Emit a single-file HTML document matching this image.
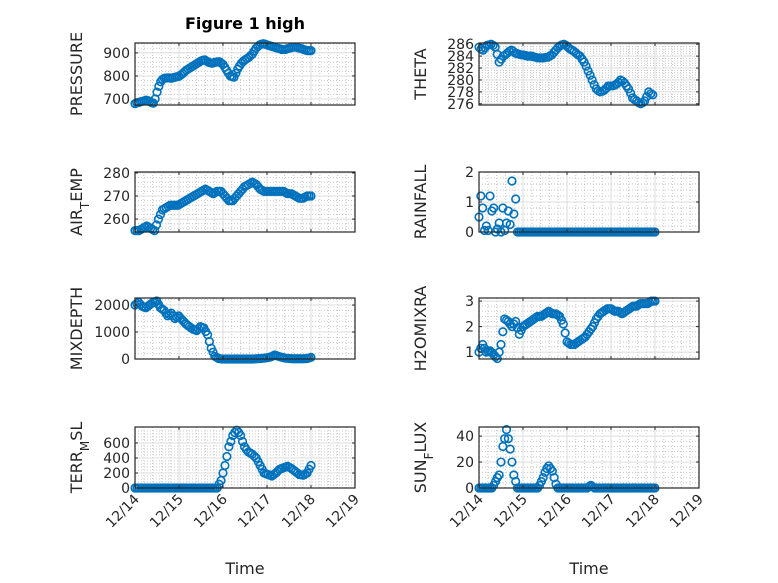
<!DOCTYPE html>
<html><head><meta charset="utf-8"><style>
body{margin:0;background:#fff}
svg{display:block;font-family:"DejaVu Sans","Liberation Sans",sans-serif}
</style></head><body>
<svg id="fig" width="778" height="583" viewBox="0 0 778 583" xmlns="http://www.w3.org/2000/svg"></svg>
<script>
const pressure=[680,683,685,688,690,692,695,693,690,685,682,700,730,755,775,785,790,791,792,791,790,793,795,797,798,804,810,818,825,830,835,840,845,850,855,860,865,868,870,865,860,857,855,858,860,861,862,856,850,838,825,812,800,797,795,812,830,843,855,863,870,875,880,888,895,908,920,928,935,938,940,938,935,932,930,928,925,922,920,918,915,915,915,918,920,922,925,925,925,922,920,918,915,912,910,910,910];
const airTemp=[255,255,255,255.5,256,256.5,257,256.5,256,255.5,255,257.5,260,262,264,264.5,265,265.5,266,266,266,266,266,266.5,267,267.5,268,268.5,269,269.5,270,270.5,271,271.5,272,272.5,273,272.5,272,271.5,271,271.5,272,272,272,271,270,269,268,268,268,269,270,271,272,273,274,274.5,275,275.5,276,275.5,275,274,273,272.5,272,272,272,272,272,272,272,272,272,272,272,271.5,271,271,271,270.5,270,269.5,269,269,269,269.5,270,270,270];
const theta=[285.5,285.2,285,285.4,285.8,285.9,286,285.8,285.5,284.3,283,283.5,284,284.2,284.5,284.8,285,284.8,284.5,284.4,284.3,284.2,284.2,284.1,284,284,284,283.9,283.8,283.7,283.7,283.7,283.7,283.8,283.8,284,284.2,284.6,285,285.4,285.7,285.9,286,285.8,285.5,285.2,285,284.8,284.5,284.2,284,283.5,283,282.3,281.5,280.8,280,279.2,278.5,278.2,278,278.1,278.3,278.6,279,279,279,279.1,279.3,279.6,280,279.8,279.5,279,278.5,277.8,277,276.7,276.5,276.2,276,276.2,276.5,277.2,278,277.7,277.5];
const rainfall=[0.5,1.2,0.8,0.05,0.2,0.05,1.2,0.7,0.8,0,0.1,0.3,0,0.8,0.05,0.3,0.7,0.25,1.7,0.6,1.1,0,0,0,0,0,0,0,0,0,0,0,0,0,0,0,0,0,0,0,0,0,0,0,0,0,0,0,0,0,0,0,0,0,0,0,0,0,0,0,0,0,0,0,0,0,0,0,0,0,0,0,0,0,0,0,0,0,0,0,0,0,0,0,0,0,0,0,0,0,0,0,0,0,0,0,0];
const mixDepth=[2000,2050,2100,2020,1950,1920,1900,1950,2000,2050,2100,2120,2150,2020,1900,1850,1800,1700,1600,1650,1700,1600,1500,1550,1600,1520,1450,1380,1300,1250,1200,1150,1100,1080,1050,1120,1200,1170,1150,1020,900,650,400,250,100,60,20,10,0,0,0,0,0,0,0,0,0,0,0,0,0,0,0,0,0,0,5,10,15,20,25,30,40,50,65,80,115,150,125,100,80,60,45,30,25,20,15,10,10,10,10,10,10,10,15,20,40,60];
const h2o=[1.0,1.15,1.3,1.15,1.0,1.03,1.05,0.98,0.9,0.82,0.75,1.0,1.3,1.8,2.3,2.25,2.2,2.1,2.0,2.1,2.2,1.95,1.7,1.85,2.0,2.05,2.1,2.15,2.2,2.25,2.3,2.35,2.4,2.4,2.4,2.45,2.5,2.55,2.6,2.55,2.5,2.5,2.5,2.45,2.4,2.25,2.1,1.75,1.4,1.35,1.3,1.3,1.3,1.35,1.4,1.45,1.5,1.55,1.6,1.7,1.8,1.9,2.0,2.15,2.3,2.4,2.5,2.55,2.6,2.65,2.7,2.7,2.7,2.65,2.6,2.6,2.6,2.55,2.5,2.55,2.6,2.65,2.7,2.75,2.8,2.8,2.8,2.85,2.9,2.9,2.9,2.9,2.9,2.95,3.0,3.0,3.0];
const terrMsl=[0,0,0,0,0,0,0,0,0,0,0,0,0,0,0,0,0,0,0,0,0,0,0,0,0,0,0,0,0,0,0,0,0,0,0,0,0,0,0,0,0,0,0,50,100,200,300,420,550,620,700,740,770,740,700,620,550,510,480,465,450,425,400,350,300,250,200,190,180,170,160,180,200,225,250,260,270,280,290,275,260,240,220,200,180,175,170,185,200,250,300];
const sunFlux=[0,0,0,0,0,0,0,0,2,5,8,10,20,32,38,45,38,30,20,10,5,0,0,0,0,0,0,0,0,0,0,0,0,2,5,8,12,15,17,15,13,8,3,0,0,0,0,0,0,0,0,0,0,0,0,0,0,0,0,0,1,2,1,0,0,0,0,0,0,0,0,0,0,0,0,0,0,0,0,0,0,0,0,0,0,0,0,0,0,0,0,0,0,0,0,0,0];
const dateLabels=["12/14","12/15","12/16","12/17","12/18","12/19"];

const NS="http://www.w3.org/2000/svg";
const svg=document.getElementById('fig');
function el(t,a,p){const e=document.createElementNS(NS,t);for(const k in a)e.setAttribute(k,a[k]);(p||svg).appendChild(e);return e;}
const cols=[{x0:135,x1:355},{x0:479,x1:699}];
const rows=[{y0:43,y1:105},{y0:172,y1:232},{y0:298,y1:359},{y0:427,y1:488}];
const panels=[
 {name:'pressure',c:0,r:0,data:pressure,ymin:674,ymax:943,ticks:[700,800,900],label:['PRESSURE'],days:4},
 {name:'theta',c:1,r:0,data:theta,ymin:275.8,ymax:286.2,ticks:[276,278,280,282,284,286],label:['THETA'],days:3.95},
 {name:'air-temp',c:0,r:1,data:airTemp,ymin:254.4,ymax:280.4,ticks:[260,270,280],label:['AIR','T','EMP'],days:4},
 {name:'rainfall',c:1,r:1,data:rainfall,ymin:0,ymax:2,ticks:[0,1,2],label:['RAINFALL'],days:4},
 {name:'mixdepth',c:0,r:2,data:mixDepth,ymin:0,ymax:2260,ticks:[0,1000,2000],label:['MIXDEPTH'],days:4},
 {name:'h2omixra',c:1,r:2,data:h2o,ymin:0.73,ymax:3.12,ticks:[1,2,3],label:['H2OMIXRA'],days:4},
 {name:'terr-msl',c:0,r:3,data:terrMsl,ymin:0,ymax:813,ticks:[0,200,400,600],label:['TERR','M','SL'],days:4},
 {name:'sun-flux',c:1,r:3,data:sunFlux,ymin:0,ymax:47,ticks:[0,20,40],label:['SUN','F','LUX'],days:4}
];
panels.forEach(p=>{
 const {x0,x1}=cols[p.c],{y0,y1}=rows[p.r];
 const g=el('g',{});
 
 
 const xs=d=>x0+(x1-x0)*d/5;
 const ys=v=>y1-(y1-y0)*(v-p.ymin)/(p.ymax-p.ymin);
 el('rect',{x:x0,y:y0,width:x1-x0,height:y1-y0,fill:'#fff'},g);
 for(let i=1;i<25;i++){if(i%5)el('line',{x1:xs(i/5),x2:xs(i/5),y1:y0,y2:y1,stroke:'#c8c8c8','stroke-width':1,'stroke-dasharray':'1 2'},g);}
 const st=p.ticks[1]-p.ticks[0],ms=st/5;
 for(let v=p.ticks[0]-st;v<=p.ymax+1e-9;v+=ms){if(v>=p.ymin&&v<=p.ymax&&Math.abs(Math.round((v-p.ticks[0])/st)*st-(v-p.ticks[0]))>ms/4)el('line',{x1:x0,x2:x1,y1:ys(v),y2:ys(v),stroke:'#c8c8c8','stroke-width':1,'stroke-dasharray':'1 2'},g);}
 for(let d=1;d<5;d++)el('line',{x1:xs(d),x2:xs(d),y1:y0,y2:y1,stroke:'#dcdcdc','stroke-width':1},g);
 p.ticks.forEach(v=>el('line',{x1:x0,x2:x1,y1:ys(v),y2:ys(v),stroke:'#dcdcdc','stroke-width':1},g));
 const step=p.days/(p.data.length-1);
 p.data.forEach((v,i)=>{
  const c=el('circle',{cx:xs(i*step),cy:ys(v),r:3.8,fill:'none',stroke:'#0072BD','stroke-width':1.6},g);
  
  
 });
 el('rect',{x:x0,y:y0,width:x1-x0,height:y1-y0,fill:'none',stroke:'#262626','stroke-width':1.2},g);
 for(let d=0;d<=5;d++){el('line',{x1:xs(d),x2:xs(d),y1:y1,y2:y1-3,stroke:'#262626'},g);el('line',{x1:xs(d),x2:xs(d),y1:y0,y2:y0+3,stroke:'#262626'},g);}
 p.ticks.forEach(v=>{
  el('line',{x1:x0,x2:x0+3,y1:ys(v),y2:ys(v),stroke:'#262626'},g);
  el('line',{x1:x1,x2:x1-3,y1:ys(v),y2:ys(v),stroke:'#262626'},g);
  const t=el('text',{x:x0-5,y:ys(v)+5,'text-anchor':'end','font-size':14,fill:'#262626'},g);
  t.textContent=v;
  
  
 });
 const lx=x0-53,ly=(y0+y1)/2;
 const yl=el('text',{x:0,y:0,'text-anchor':'middle','font-size':16,fill:'#262626',transform:`translate(${lx},${ly}) rotate(-90)`},g);
 
 
 p.label.forEach((s,i)=>{const ts=el('tspan',i===1?{'baseline-shift':'sub','font-size':12}:{},yl);ts.textContent=s;});
 if(p.r===3){
  dateLabels.forEach((s,d)=>{
   const t=el('text',{x:0,y:0,'text-anchor':'end','font-size':14,fill:'#262626',transform:`translate(${xs(d)+5},${y1+12}) rotate(-45)`},g);
   t.textContent=s;
   
   
  });
  const xl=el('text',{x:(x0+x1)/2,y:574,'text-anchor':'middle','font-size':16,fill:'#262626'},g);
  xl.textContent='Time';
  
  
 }
});
const title=el('text',{x:245,y:29,'text-anchor':'middle','font-size':16,'font-weight':'bold',fill:'#000'});
title.textContent='Figure 1 high';


</script>
</body></html>
